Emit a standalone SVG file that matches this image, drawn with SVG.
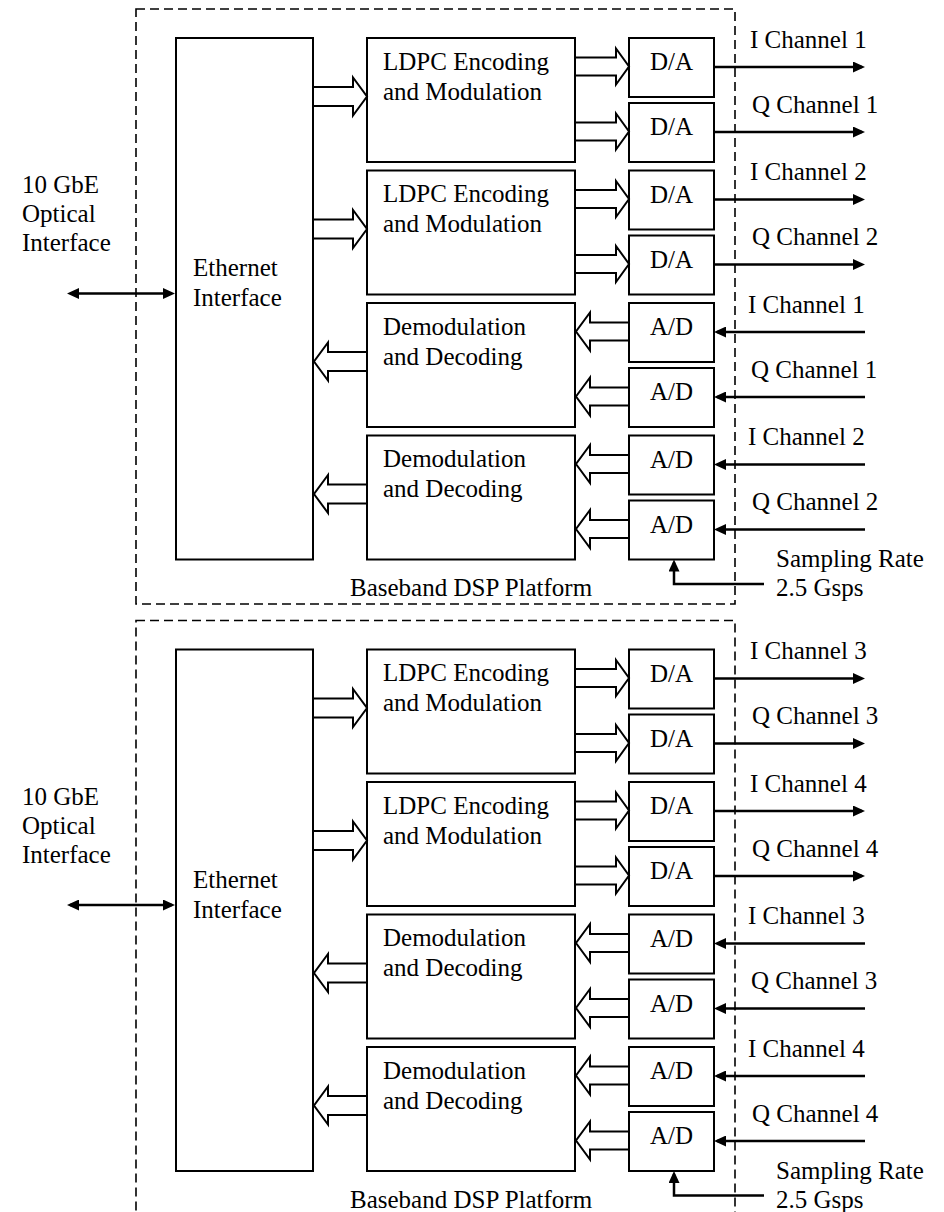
<svg xmlns="http://www.w3.org/2000/svg" width="944" height="1212" viewBox="0 0 944 1212" font-family="'Liberation Serif', Tinos, 'Times New Roman', 'DejaVu Serif', serif">
  <style>
    text { font-family: "Liberation Serif", Tinos, "Times New Roman", "DejaVu Serif", serif; font-size: 25px; fill: #000; }
    .mid { text-anchor: middle; }
    .box { fill: #fff; stroke: #000; stroke-width: 2; }
    .frame { fill: none; stroke: #000; stroke-width: 1.6; stroke-dasharray: 9 5; }
    .blk { fill: #fff; stroke: #000; stroke-width: 2; stroke-linejoin: miter; }
    .wire { fill: none; stroke: #000; stroke-width: 2.5; }
    .wire-end { marker-end: url(#head); }
    .wire-both { marker-start: url(#head); marker-end: url(#head); }
  </style>
  <defs>
    <marker id="head" viewBox="0 0 12 11" refX="9" refY="5.5" markerWidth="12" markerHeight="11" markerUnits="userSpaceOnUse" orient="auto-start-reverse">
      <path d="M0,0 L12,5.5 L0,11 Z" fill="#000"/>
    </marker>
    <!-- hollow bus arrows, drawn from their origin -->
    <path id="bus-right-wide" d="M0,-9.5 H40 V-19 L54,0 L40,19 V9.5 H0 Z"/>
    <path id="bus-left-wide" d="M0,-9.5 H-39 V-19 L-53,0 L-39,19 V9.5 H0 Z"/>
    <path id="bus-right" d="M0,-9 H41 V-18 L54,0 L41,18 V9 H0 Z"/>
    <path id="bus-left" d="M0,-9 H-39 V-19 L-53,0 L-39,19 V9 H0 Z"/>
  </defs>

  <!-- ===== Platform A ===== -->
  <g id="platform-a">
    <g id="frame-a">
      <rect class="frame" x="136" y="9" width="599" height="595"/>
      <text x="350" y="596">Baseband DSP Platform</text>
    </g>
    <g id="optical-a">
      <text x="22" y="193">10 GbE</text>
      <text x="22" y="222">Optical</text>
      <text x="22" y="251">Interface</text>
    </g>
    <g id="eth-a">
      <rect class="box" x="176" y="38" width="137" height="521.5"/>
      <text x="193" y="276">Ethernet</text>
      <text x="193" y="306">Interface</text>
    </g>
    <g id="enc-a1">
      <rect class="box" x="367" y="38" width="208" height="124"/>
      <text x="383" y="69.5">LDPC Encoding</text>
      <text x="383" y="99.5">and Modulation</text>
    </g>
    <g id="enc-a2">
      <rect class="box" x="367" y="170.5" width="208" height="124"/>
      <text x="383" y="202">LDPC Encoding</text>
      <text x="383" y="232">and Modulation</text>
    </g>
    <g id="dec-a1">
      <rect class="box" x="367" y="303" width="208" height="124"/>
      <text x="383" y="334.5">Demodulation</text>
      <text x="383" y="364.5">and Decoding</text>
    </g>
    <g id="dec-a2">
      <rect class="box" x="367" y="435.5" width="208" height="124"/>
      <text x="383" y="467">Demodulation</text>
      <text x="383" y="497">and Decoding</text>
    </g>
    <g id="dac-a1"><rect class="box" x="629" y="38" width="85" height="59"/><text class="mid" x="671.5" y="70">D/A</text></g>
    <g id="dac-a2"><rect class="box" x="629" y="103" width="85" height="59"/><text class="mid" x="671.5" y="135">D/A</text></g>
    <g id="dac-a3"><rect class="box" x="629" y="170.5" width="85" height="59"/><text class="mid" x="671.5" y="202.5">D/A</text></g>
    <g id="dac-a4"><rect class="box" x="629" y="235.5" width="85" height="59"/><text class="mid" x="671.5" y="267.5">D/A</text></g>
    <g id="adc-a1"><rect class="box" x="629" y="303" width="85" height="59"/><text class="mid" x="671.5" y="335">A/D</text></g>
    <g id="adc-a2"><rect class="box" x="629" y="368" width="85" height="59"/><text class="mid" x="671.5" y="400">A/D</text></g>
    <g id="adc-a3"><rect class="box" x="629" y="435.5" width="85" height="59"/><text class="mid" x="671.5" y="467.5">A/D</text></g>
    <g id="adc-a4"><rect class="box" x="629" y="500.5" width="85" height="59"/><text class="mid" x="671.5" y="532.5">A/D</text></g>
    <g id="labels-a">
      <text x="750" y="47.5">I Channel 1</text>
      <text x="752" y="112.5">Q Channel 1</text>
      <text x="750" y="180">I Channel 2</text>
      <text x="752" y="245">Q Channel 2</text>
      <text x="748" y="312.5">I Channel 1</text>
      <text x="751" y="377.5">Q Channel 1</text>
      <text x="748" y="445">I Channel 2</text>
      <text x="752" y="510">Q Channel 2</text>
      <text x="776" y="567">Sampling Rate</text>
      <text x="776" y="596">2.5 Gsps</text>
    </g>
    <g id="connectors-a">
      <use class="blk" href="#bus-right-wide" x="313" y="96.5"/>
      <use class="blk" href="#bus-right-wide" x="313" y="229"/>
      <use class="blk" href="#bus-left-wide" x="367" y="361.5"/>
      <use class="blk" href="#bus-left-wide" x="367" y="494"/>
      <use class="blk" href="#bus-right" x="575" y="66.5"/>
      <use class="blk" href="#bus-right" x="575" y="131.5"/>
      <use class="blk" href="#bus-right" x="575" y="199"/>
      <use class="blk" href="#bus-right" x="575" y="264"/>
      <use class="blk" href="#bus-left" x="629" y="331.5"/>
      <use class="blk" href="#bus-left" x="629" y="396.5"/>
      <use class="blk" href="#bus-left" x="629" y="464"/>
      <use class="blk" href="#bus-left" x="629" y="529"/>
      <line class="wire wire-both" x1="70" y1="293.5" x2="172" y2="293.5"/>
      <line class="wire wire-end" x1="714" y1="67" x2="862" y2="67"/>
      <line class="wire wire-end" x1="714" y1="132" x2="862" y2="132"/>
      <line class="wire wire-end" x1="714" y1="199.5" x2="862" y2="199.5"/>
      <line class="wire wire-end" x1="714" y1="264.5" x2="862" y2="264.5"/>
      <line class="wire wire-end" x1="865" y1="332" x2="717" y2="332"/>
      <line class="wire wire-end" x1="865" y1="397" x2="717" y2="397"/>
      <line class="wire wire-end" x1="865" y1="464.5" x2="717" y2="464.5"/>
      <line class="wire wire-end" x1="865" y1="529.5" x2="717" y2="529.5"/>
      <path class="wire wire-end" d="M764,584 H674 V562.5"/>
    </g>
  </g>

  <!-- ===== Platform B (same layout, shifted down) ===== -->
  <g id="platform-b" transform="translate(0,611.5)">
    <g id="frame-b">
      <rect class="frame" x="136" y="9" width="599" height="620"/>
      <text x="350" y="596">Baseband DSP Platform</text>
    </g>
    <g id="optical-b">
      <text x="22" y="193">10 GbE</text>
      <text x="22" y="222">Optical</text>
      <text x="22" y="251">Interface</text>
    </g>
    <g id="eth-b">
      <rect class="box" x="176" y="38" width="137" height="521.5"/>
      <text x="193" y="276">Ethernet</text>
      <text x="193" y="306">Interface</text>
    </g>
    <g id="enc-b1">
      <rect class="box" x="367" y="38" width="208" height="124"/>
      <text x="383" y="69.5">LDPC Encoding</text>
      <text x="383" y="99.5">and Modulation</text>
    </g>
    <g id="enc-b2">
      <rect class="box" x="367" y="170.5" width="208" height="124"/>
      <text x="383" y="202">LDPC Encoding</text>
      <text x="383" y="232">and Modulation</text>
    </g>
    <g id="dec-b1">
      <rect class="box" x="367" y="303" width="208" height="124"/>
      <text x="383" y="334.5">Demodulation</text>
      <text x="383" y="364.5">and Decoding</text>
    </g>
    <g id="dec-b2">
      <rect class="box" x="367" y="435.5" width="208" height="124"/>
      <text x="383" y="467">Demodulation</text>
      <text x="383" y="497">and Decoding</text>
    </g>
    <g id="dac-b1"><rect class="box" x="629" y="38" width="85" height="59"/><text class="mid" x="671.5" y="70">D/A</text></g>
    <g id="dac-b2"><rect class="box" x="629" y="103" width="85" height="59"/><text class="mid" x="671.5" y="135">D/A</text></g>
    <g id="dac-b3"><rect class="box" x="629" y="170.5" width="85" height="59"/><text class="mid" x="671.5" y="202.5">D/A</text></g>
    <g id="dac-b4"><rect class="box" x="629" y="235.5" width="85" height="59"/><text class="mid" x="671.5" y="267.5">D/A</text></g>
    <g id="adc-b1"><rect class="box" x="629" y="303" width="85" height="59"/><text class="mid" x="671.5" y="335">A/D</text></g>
    <g id="adc-b2"><rect class="box" x="629" y="368" width="85" height="59"/><text class="mid" x="671.5" y="400">A/D</text></g>
    <g id="adc-b3"><rect class="box" x="629" y="435.5" width="85" height="59"/><text class="mid" x="671.5" y="467.5">A/D</text></g>
    <g id="adc-b4"><rect class="box" x="629" y="500.5" width="85" height="59"/><text class="mid" x="671.5" y="532.5">A/D</text></g>
    <g id="labels-b">
      <text x="750" y="47.5">I Channel 3</text>
      <text x="752" y="112.5">Q Channel 3</text>
      <text x="750" y="180">I Channel 4</text>
      <text x="752" y="245">Q Channel 4</text>
      <text x="748" y="312.5">I Channel 3</text>
      <text x="751" y="377.5">Q Channel 3</text>
      <text x="748" y="445">I Channel 4</text>
      <text x="752" y="510">Q Channel 4</text>
      <text x="776" y="567">Sampling Rate</text>
      <text x="776" y="596">2.5 Gsps</text>
    </g>
    <g id="connectors-b">
      <use class="blk" href="#bus-right-wide" x="313" y="96.5"/>
      <use class="blk" href="#bus-right-wide" x="313" y="229"/>
      <use class="blk" href="#bus-left-wide" x="367" y="361.5"/>
      <use class="blk" href="#bus-left-wide" x="367" y="494"/>
      <use class="blk" href="#bus-right" x="575" y="66.5"/>
      <use class="blk" href="#bus-right" x="575" y="131.5"/>
      <use class="blk" href="#bus-right" x="575" y="199"/>
      <use class="blk" href="#bus-right" x="575" y="264"/>
      <use class="blk" href="#bus-left" x="629" y="331.5"/>
      <use class="blk" href="#bus-left" x="629" y="396.5"/>
      <use class="blk" href="#bus-left" x="629" y="464"/>
      <use class="blk" href="#bus-left" x="629" y="529"/>
      <line class="wire wire-both" x1="70" y1="293.5" x2="172" y2="293.5"/>
      <line class="wire wire-end" x1="714" y1="67" x2="862" y2="67"/>
      <line class="wire wire-end" x1="714" y1="132" x2="862" y2="132"/>
      <line class="wire wire-end" x1="714" y1="199.5" x2="862" y2="199.5"/>
      <line class="wire wire-end" x1="714" y1="264.5" x2="862" y2="264.5"/>
      <line class="wire wire-end" x1="865" y1="332" x2="717" y2="332"/>
      <line class="wire wire-end" x1="865" y1="397" x2="717" y2="397"/>
      <line class="wire wire-end" x1="865" y1="464.5" x2="717" y2="464.5"/>
      <line class="wire wire-end" x1="865" y1="529.5" x2="717" y2="529.5"/>
      <path class="wire wire-end" d="M764,584 H674 V562.5"/>
    </g>
  </g>
</svg>
